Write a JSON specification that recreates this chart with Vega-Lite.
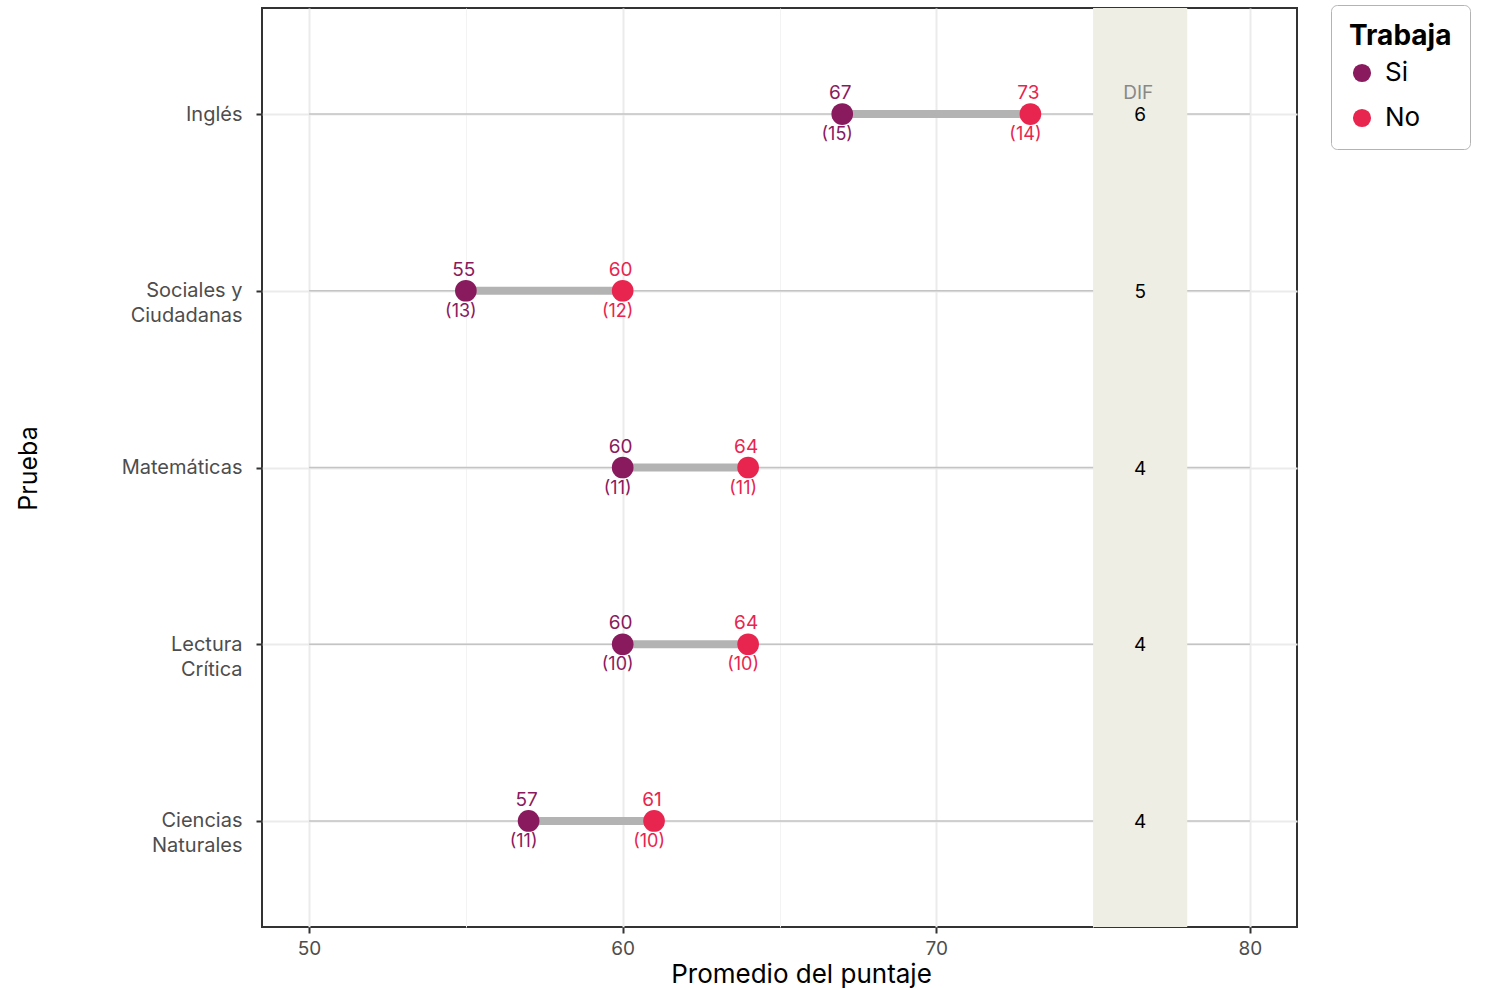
{
  "$schema": "https://vega.github.io/schema/vega-lite/v6.json",
  "width": 1035,
  "height": 919,
  "autosize": {"type": "none"},
  "padding": {"left": 262, "top": 8, "right": 197, "bottom": 63},
  "background": "white",
  "config": {
    "font": "Inter",
    "view": {"stroke": "#333333", "strokeWidth": 2},
    "axis": {"domain": false, "labelFont": "Inter", "titleFont": "Inter"}
  },
  "datasets": {
    "wide": [
      {"prueba": "Inglés", "si": 67, "no": 73, "dif": 6},
      {"prueba": "Sociales y|Ciudadanas", "si": 55, "no": 60, "dif": 5},
      {"prueba": "Matemáticas", "si": 60, "no": 64, "dif": 4},
      {"prueba": "Lectura|Crítica", "si": 60, "no": 64, "dif": 4},
      {"prueba": "Ciencias|Naturales", "si": 57, "no": 61, "dif": 4}
    ],
    "long": [
      {"prueba": "Inglés", "trabaja": "Si", "puntaje": 67, "n": "(15)"},
      {"prueba": "Inglés", "trabaja": "No", "puntaje": 73, "n": "(14)"},
      {"prueba": "Sociales y|Ciudadanas", "trabaja": "Si", "puntaje": 55, "n": "(13)"},
      {"prueba": "Sociales y|Ciudadanas", "trabaja": "No", "puntaje": 60, "n": "(12)"},
      {"prueba": "Matemáticas", "trabaja": "Si", "puntaje": 60, "n": "(11)"},
      {"prueba": "Matemáticas", "trabaja": "No", "puntaje": 64, "n": "(11)"},
      {"prueba": "Lectura|Crítica", "trabaja": "Si", "puntaje": 60, "n": "(10)"},
      {"prueba": "Lectura|Crítica", "trabaja": "No", "puntaje": 64, "n": "(10)"},
      {"prueba": "Ciencias|Naturales", "trabaja": "Si", "puntaje": 57, "n": "(11)"},
      {"prueba": "Ciencias|Naturales", "trabaja": "No", "puntaje": 61, "n": "(10)"}
    ],
    "band": [{"desde": 75, "hasta": 78}]
  },
  "layer": [
    {
      "data": {"name": "wide"},
      "mark": {"type": "rule", "color": "#c4c4c4", "strokeWidth": 1.5},
      "encoding": {
        "y": {
          "field": "prueba", "type": "nominal",
          "sort": ["Inglés", "Sociales y|Ciudadanas", "Matemáticas", "Lectura|Crítica", "Ciencias|Naturales"],
          "scale": {"type": "point", "padding": 0.6},
          "axis": {
            "title": "Prueba",
            "titleFontSize": 25, "titleFontWeight": "normal", "titleColor": "#000000",
            "titleX": -234, "titleY": 460, "titleAngle": -90, "titleAlign": "center", "titleBaseline": "middle",
            "labelExpr": "split(datum.label, '|')",
            "labelFontSize": 20, "labelColor": "#4d4d4d", "labelPadding": 14, "labelLineHeight": 25,
            "labelBaseline": "middle",
            "tickSize": 6, "tickColor": "#333333", "tickWidth": 2,
            "grid": true, "gridColor": "#ebebeb", "gridWidth": 2
          }
        },
        "x": {
          "datum": 50, "type": "quantitative",
          "scale": {"domain": [48.5, 81.5], "nice": false, "zero": false},
          "axis": {
            "title": "Promedio del puntaje",
            "titleFontSize": 26, "titleFontWeight": "normal", "titleColor": "#000000",
            "titleX": 539, "titleAlign": "center", "titleAnchor": "start",
            "titleY": 47, "titleBaseline": "middle",
            "values": [50, 55, 60, 65, 70, 75, 80],
            "labelExpr": "datum.value % 10 === 0 ? datum.label : ''",
            "labelFontSize": 19, "labelColor": "#4d4d4d", "labelPadding": 6,
            "tickSize": 6, "tickColor": "#333333", "tickWidth": 2,
            "tickOpacity": {"condition": {"test": "datum.value % 10 === 0", "value": 1}, "value": 0},
            "grid": true,
            "gridColor": {"condition": {"test": "datum.value % 10 === 0", "value": "#ebebeb"}, "value": "#f3f3f3"},
            "gridWidth": {"condition": {"test": "datum.value % 10 === 0", "value": 2}, "value": 1}
          }
        },
        "x2": {"datum": 80}
      }
    },
    {
      "data": {"name": "band"},
      "mark": {"type": "rect", "color": "#eeeee4"},
      "encoding": {
        "x": {"field": "desde", "type": "quantitative"},
        "x2": {"field": "hasta"}
      }
    },
    {
      "data": {"name": "wide"},
      "mark": {"type": "text", "fontSize": 19, "color": "#000000", "baseline": "middle", "dy": 1},
      "encoding": {
        "y": {"field": "prueba", "type": "nominal", "sort": ["Inglés", "Sociales y|Ciudadanas", "Matemáticas", "Lectura|Crítica", "Ciencias|Naturales"]},
        "x": {"datum": 76.5, "type": "quantitative"},
        "text": {"field": "dif", "type": "quantitative"}
      }
    },
    {
      "data": {"name": "wide"},
      "transform": [{"filter": "datum.prueba === 'Inglés'"}],
      "mark": {"type": "text", "fontSize": 19, "color": "#888888", "baseline": "middle", "dy": -21, "dx": -2},
      "encoding": {
        "y": {"field": "prueba", "type": "nominal", "sort": ["Inglés", "Sociales y|Ciudadanas", "Matemáticas", "Lectura|Crítica", "Ciencias|Naturales"]},
        "x": {"datum": 76.5, "type": "quantitative"},
        "text": {"value": "DIF"}
      }
    },
    {
      "data": {"name": "wide"},
      "mark": {"type": "rule", "color": "#b3b3b3", "strokeWidth": 8},
      "encoding": {
        "y": {"field": "prueba", "type": "nominal", "sort": ["Inglés", "Sociales y|Ciudadanas", "Matemáticas", "Lectura|Crítica", "Ciencias|Naturales"]},
        "x": {"field": "si", "type": "quantitative"},
        "x2": {"field": "no"}
      }
    },
    {
      "data": {"name": "long"},
      "mark": {"type": "circle", "size": 470, "opacity": 1},
      "encoding": {
        "y": {"field": "prueba", "type": "nominal", "sort": ["Inglés", "Sociales y|Ciudadanas", "Matemáticas", "Lectura|Crítica", "Ciencias|Naturales"]},
        "x": {"field": "puntaje", "type": "quantitative"},
        "color": {
          "field": "trabaja", "type": "nominal",
          "scale": {"domain": ["Si", "No"], "range": ["#8a1a5e", "#e8254f"]},
          "legend": {
            "title": "Trabaja", "orient": "none", "legendX": 1069, "legendY": -3,
            "titleFontSize": 28, "titleFontWeight": "bold", "titleColor": "#000000", "titleFont": "Inter",
            "labelFontSize": 26, "labelColor": "#000000", "labelFont": "Inter",
            "symbolType": "circle", "symbolSize": 330, "symbolStrokeWidth": 0,
            "rowPadding": 19, "titlePadding": 9, "labelOffset": 10,
            "strokeColor": "#b3b3b3", "cornerRadius": 6, "padding": 18,
            "fillColor": "white"
          }
        }
      }
    },
    {
      "data": {"name": "long"},
      "mark": {"type": "text", "fontSize": 19, "baseline": "middle", "dy": -21, "dx": -2},
      "encoding": {
        "y": {"field": "prueba", "type": "nominal", "sort": ["Inglés", "Sociales y|Ciudadanas", "Matemáticas", "Lectura|Crítica", "Ciencias|Naturales"]},
        "x": {"field": "puntaje", "type": "quantitative"},
        "text": {"field": "puntaje", "type": "quantitative"},
        "color": {"field": "trabaja", "type": "nominal", "legend": null}
      }
    },
    {
      "data": {"name": "long"},
      "mark": {"type": "text", "fontSize": 18, "baseline": "middle", "dy": 21, "dx": -5},
      "encoding": {
        "y": {"field": "prueba", "type": "nominal", "sort": ["Inglés", "Sociales y|Ciudadanas", "Matemáticas", "Lectura|Crítica", "Ciencias|Naturales"]},
        "x": {"field": "puntaje", "type": "quantitative"},
        "text": {"field": "n", "type": "nominal"},
        "color": {"field": "trabaja", "type": "nominal", "legend": null}
      }
    }
  ]
}
